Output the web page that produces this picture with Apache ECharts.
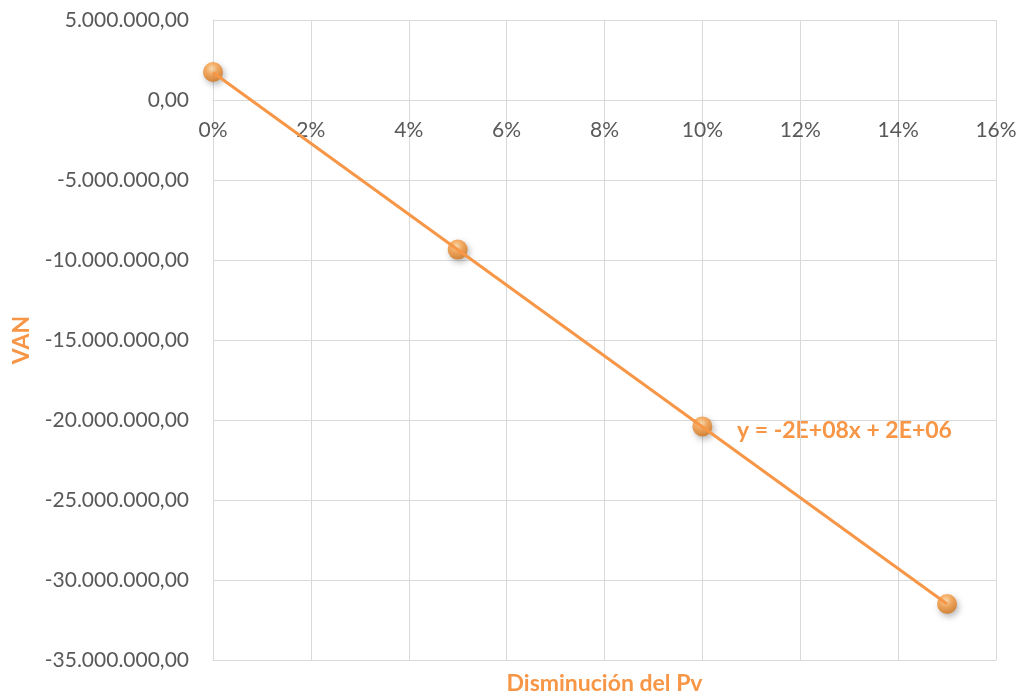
<!DOCTYPE html>
<html>
<head>
<meta charset="utf-8">
<script src="https://cdn.jsdelivr.net/npm/echarts@6/dist/echarts.min.js"></script>
<style>
  html, body { margin: 0; padding: 0; background: #fff; }
  #chart { width: 1021px; height: 695px; }
</style>
</head>
<body>
<div id="chart"></div>
<script>
// disminución del Pv (fracción) y VAN
var disminucion = [0, 0.05, 0.10, 0.15];
var van = [1750000, -9350000, -20400000, -31500000];
// extremos de la línea de tendencia
var trendX = [0, 0.15];
var trendY = [1720000, -31500000];
var ecuacion = 'y = -2E+08x + 2E+06';

var naranja = '#F79646';
var rejilla = '#d9d9d9';

function fmtVan(v) {
  var neg = v < 0;
  var s = Math.abs(Math.round(v)).toString().replace(/\B(?=(\d{3})+(?!\d))/g, '.');
  return (neg ? '-' : '') + s + ',00';
}

var puntos = disminucion.map(function (x, i) { return [x, van[i]]; });
var tendencia = trendX.map(function (x, i) { return [x, trendY[i]]; });

var myChart = echarts.init(document.getElementById('chart'));
var option = {
  backgroundColor: '#fff',
  animation: false,
  textStyle: { fontFamily: 'Lato' },
  grid: { left: 213, right: 25, top: 20, bottom: 35, containLabel: false, outerBoundsMode: 'none' },
  xAxis: [
    {
      // eje de porcentajes, cruzando en VAN = 0 (offset hacia dentro)
      type: 'value',
      min: 0, max: 0.16, interval: 0.02,
      position: 'bottom',
      offset: -560,
      axisLine: { show: true, onZero: false, lineStyle: { color: rejilla, width: 1 } },
      axisTick: { show: false },
      axisLabel: {
        color: '#595959', fontSize: 21, margin: 20,
        formatter: function (v) { return Math.round(v * 100) + '%'; }
      },
      splitLine: { show: true, lineStyle: { color: rejilla, width: 1 } }
    },
    {
      // solo el título del eje, abajo
      type: 'value',
      min: 0, max: 0.16, interval: 0.02,
      position: 'bottom',
      name: 'Disminución del Pv',
      nameLocation: 'middle',
      nameGap: 12,
      nameTextStyle: { color: naranja, fontWeight: 'bold', fontSize: 23, fontFamily: 'Lato', verticalAlign: 'top' },
      axisLine: { show: true, onZero: false, lineStyle: { color: rejilla, width: 1 } },
      axisTick: { show: false },
      axisLabel: { show: false },
      splitLine: { show: false }
    }
  ],
  yAxis: {
    type: 'value',
    min: -35000000, max: 5000000, interval: 5000000,
    name: 'VAN',
    nameLocation: 'middle',
    nameGap: 180,
    nameRotate: 90,
    nameTextStyle: { color: naranja, fontWeight: 'bold', fontSize: 23, fontFamily: 'Lato' },
    axisLine: { show: true, onZero: false, lineStyle: { color: rejilla, width: 1 } },
    axisTick: { show: false },
    axisLabel: { color: '#595959', fontSize: 21, margin: 24, formatter: fmtVan },
    splitLine: { show: true, lineStyle: { color: rejilla, width: 1 } }
  },
  series: [
    {
      type: 'line',
      data: tendencia,
      showSymbol: false,
      symbol: 'none',
      lineStyle: { color: naranja, width: 3 },
      z: 3
    },
    {
      type: 'scatter',
      data: puntos,
      symbolSize: 20,
      itemStyle: {
        color: {
          type: 'radial', x: 0.45, y: 0.35, r: 0.7,
          colorStops: [
            { offset: 0, color: '#ffe0b0' },
            { offset: 0.4, color: '#fa9f45' },
            { offset: 1, color: '#cf6d12' }
          ]
        },
        shadowColor: 'rgba(0,0,0,0.35)',
        shadowBlur: 6,
        shadowOffsetX: 2,
        shadowOffsetY: 3
      },
      z: 2
    }
  ],
  graphic: [
    {
      type: 'text',
      left: 737,
      top: 419,
      style: {
        text: ecuacion,
        fill: naranja,
        font: 'bold 23px Lato'
      }
    }
  ]
};
myChart.setOption(option, true);
</script>
</body>
</html>
